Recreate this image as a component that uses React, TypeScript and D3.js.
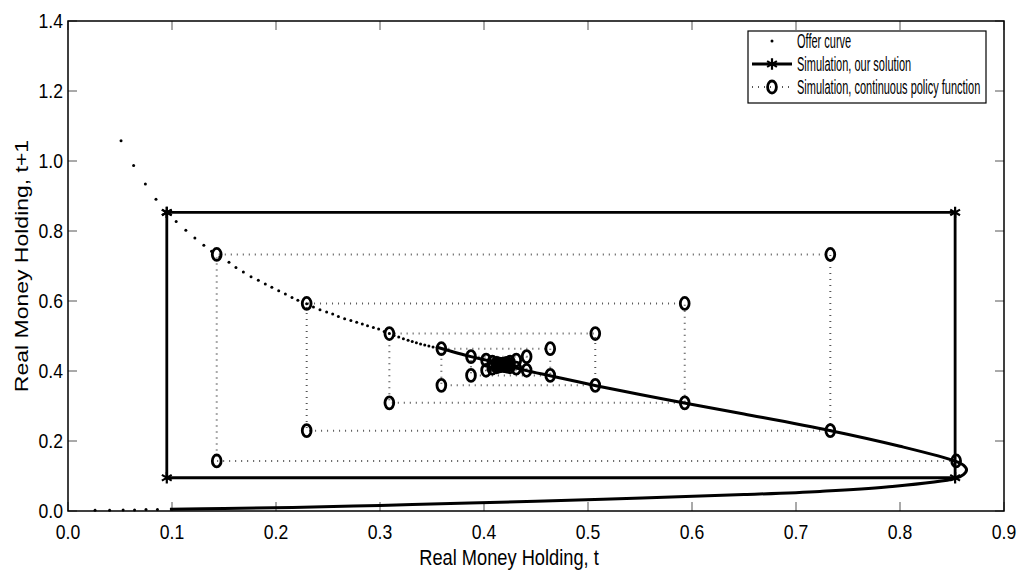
import React from "react";
import * as d3 from "d3";

// axis ticks
const xTicks = [0, 0.1, 0.2, 0.3, 0.4, 0.5, 0.6, 0.7, 0.8, 0.9];
const yTicks = [0, 0.2, 0.4, 0.6, 0.8, 1.0, 1.2, 1.4];

// offer curve, sparse part (drawn as single dots)
const offerDotsX = [0.051, 0.0631, 0.0744, 0.0846, 0.095, 0.104, 0.1133, 0.122, 0.1306, 0.138, 0.146, 0.1548, 0.1615, 0.1686, 0.176, 0.183, 0.1897, 0.196, 0.2026, 0.209, 0.2154, 0.221, 0.2295, 0.236, 0.2423, 0.2487, 0.2545, 0.26, 0.266, 0.272, 0.2776, 0.283, 0.288, 0.2936, 0.2987, 0.304, 0.309, 0.3135, 0.318, 0.3225, 0.327, 0.331, 0.335, 0.339, 0.343, 0.347, 0.351, 0.355,
  0.026, 0.04, 0.053, 0.064, 0.075, 0.086];
const offerDotsY = [1.058, 0.987, 0.934, 0.891, 0.855, 0.8275, 0.802, 0.78, 0.759, 0.742, 0.726, 0.7104, 0.696, 0.683, 0.669, 0.659, 0.6486, 0.639, 0.629, 0.62, 0.61, 0.602, 0.592, 0.583, 0.575, 0.5686, 0.563, 0.556, 0.549, 0.544, 0.539, 0.534, 0.529, 0.5246, 0.52, 0.513, 0.507, 0.5015, 0.497, 0.4925, 0.488, 0.4843, 0.481, 0.4775, 0.4745, 0.4715, 0.4685, 0.468,
  0.002, 0.002, 0.003, 0.003, 0.004, 0.004];

// offer curve, dense part (dots merge into a solid line)
const offerLineX = [0.355, 0.3875, 0.402, 0.418, 0.441, 0.4635, 0.5077, 0.55, 0.5926, 0.65, 0.7334, 0.8, 0.8537, 0.861, 0.864, 0.861, 0.853, 0.787, 0.723, 0.65, 0.552, 0.45, 0.386, 0.3, 0.216, 0.15, 0.098];
const offerLineY = [0.468, 0.441, 0.431, 0.419, 0.401, 0.3866, 0.358, 0.333, 0.3086, 0.277, 0.2294, 0.185, 0.142, 0.131, 0.118, 0.104, 0.093, 0.0686, 0.056, 0.047, 0.037, 0.028, 0.023, 0.016, 0.01, 0.007, 0.005];

// simulated paths x_t
const solutionPath = [0.095, 0.853, 0.095, 0.853];
const policyPath = [0.854, 0.143, 0.733, 0.2295, 0.593, 0.309, 0.507, 0.359, 0.4637, 0.3875, 0.441, 0.402, 0.431, 0.408, 0.425, 0.412, 0.422, 0.414, 0.4205, 0.4155, 0.419, 0.4165, 0.4185, 0.417];

const legendItems = ["Offer curve", "Simulation, our solution", "Simulation, continuous policy function"];

const W = 1019, H = 571;
const FONT = "'Liberation Sans', Arial, Helvetica, sans-serif";

// (x_t, x_t+1) then (x_t+1, x_t+1) -> staircase
const cobweb = (xs: number[]) => {
  const pts: [number, number][] = [];
  for (let i = 0; i < xs.length - 1; i++) {
    pts.push([xs[i], xs[i + 1]]);
    if (i < xs.length - 2) pts.push([xs[i + 1], xs[i + 1]]);
  }
  return pts;
};

function Star({ cx, cy }: { cx: number; cy: number }) {
  const p = d3.symbol(d3.symbolAsterisk, 90)();
  return <path d={p || ""} transform={`translate(${cx},${cy})`} fill="none" stroke="#000" strokeWidth={2.2} />;
}

function Ring({ cx, cy }: { cx: number; cy: number }) {
  return <ellipse cx={cx} cy={cy} rx={4.4} ry={6} fill="none" stroke="#000" strokeWidth={2.8} />;
}

function SText({ x, y, k, size, anchor, children, rotate }: any) {
  const tr = rotate ? `translate(${x},${y}) rotate(-90) scale(1,${k})` : `translate(${x},${y}) scale(${k},1)`;
  return (
    <text transform={tr} fontFamily={FONT} fontSize={size} textAnchor={anchor || "start"} fill="#000">
      {children}
    </text>
  );
}

export default function App() {
  const x = d3.scaleLinear().domain([0, 0.9]).range([68, 1004]);
  const y = d3.scaleLinear().domain([0, 1.4]).range([511, 21]);
  const [x0, x1] = x.range();
  const [y0, y1] = y.range();

  const line = d3.line<[number, number]>().x(d => x(d[0])).y(d => y(d[1]));
  const smooth = d3.line<[number, number]>().x(d => x(d[0])).y(d => y(d[1])).curve(d3.curveCatmullRom);

  const offerLine = offerLineX.map((v, i) => [v, offerLineY[i]] as [number, number]);
  const solPts = cobweb(solutionPath);
  const polPts = cobweb(policyPath);

  const tickLen = 9;
  const lx = 748, ly = 31;

  return (
    <svg width={W} height={H} style={{ position: "absolute", left: 0, top: 0, background: "#fff" }}>
      <rect x={0} y={0} width={W} height={H} fill="#fff" />

      {/* ticks, all four sides */}
      <g stroke="#555" strokeWidth={1}>
        {xTicks.map(t => (
          <g key={"xt" + t}>
            <line x1={x(t)} x2={x(t)} y1={y0} y2={y0 - tickLen} />
            <line x1={x(t)} x2={x(t)} y1={y1} y2={y1 + tickLen} />
          </g>
        ))}
        {yTicks.map(t => (
          <g key={"yt" + t}>
            <line x1={x0} x2={x0 + tickLen} y1={y(t)} y2={y(t)} />
            <line x1={x1} x2={x1 - tickLen} y1={y(t)} y2={y(t)} />
          </g>
        ))}
      </g>

      {/* continuous policy simulation */}
      <path d={line(polPts) || ""} fill="none" stroke="#555" strokeWidth={2} strokeDasharray="1,5" />

      {/* offer curve */}
      <path d={smooth(offerLine) || ""} fill="none" stroke="#000" strokeWidth={3} />
      {offerDotsX.map((v, i) => (
        <circle key={"od" + i} cx={x(v)} cy={y(offerDotsY[i])} r={1.5} fill="#000" />
      ))}

      {/* our solution */}
      <path d={line(solPts) || ""} fill="none" stroke="#000" strokeWidth={2.8} />
      {solPts.map((p, i) => <Star key={"s" + i} cx={x(p[0])} cy={y(p[1])} />)}

      {polPts.map((p, i) => <Ring key={"c" + i} cx={x(p[0])} cy={y(p[1])} />)}

      {/* frame */}
      <rect x={x0} y={y1} width={x1 - x0} height={y0 - y1} fill="none" stroke="#000" strokeWidth={1.5} />

      {/* tick labels */}
      {xTicks.map(t => (
        <SText key={"xl" + t} x={x(t)} y={539} k={0.88} size={20} anchor="middle">{d3.format(".1f")(t)}</SText>
      ))}
      {yTicks.map(t => (
        <SText key={"yl" + t} x={63} y={y(t) + 7.2} k={0.88} size={20} anchor="end">{d3.format(".1f")(t)}</SText>
      ))}

      <SText x={509} y={565} k={0.83} size={22} anchor="middle">Real Money Holding, t</SText>
      <SText x={28} y={266} k={0.8} size={23} anchor="middle" rotate>Real Money Holding, t+1</SText>

      {/* legend */}
      <rect x={lx} y={ly} width={238} height={72} fill="#fff" stroke="#000" strokeWidth={1.2} />
      <circle cx={lx + 24} cy={ly + 10} r={1.5} fill="#000" />
      <line x1={lx + 4} x2={lx + 44} y1={ly + 33} y2={ly + 33} stroke="#000" strokeWidth={2.8} />
      <Star cx={lx + 24} cy={ly + 33} />
      <line x1={lx + 4} x2={lx + 44} y1={ly + 56} y2={ly + 56} stroke="#555" strokeWidth={2} strokeDasharray="1,5" />
      <Ring cx={lx + 24} cy={ly + 56} />
      {legendItems.map((s, i) => (
        <SText key={s} x={lx + 49} y={ly + 17 + i * 23} k={0.55} size={20}>{s}</SText>
      ))}
    </svg>
  );
}
